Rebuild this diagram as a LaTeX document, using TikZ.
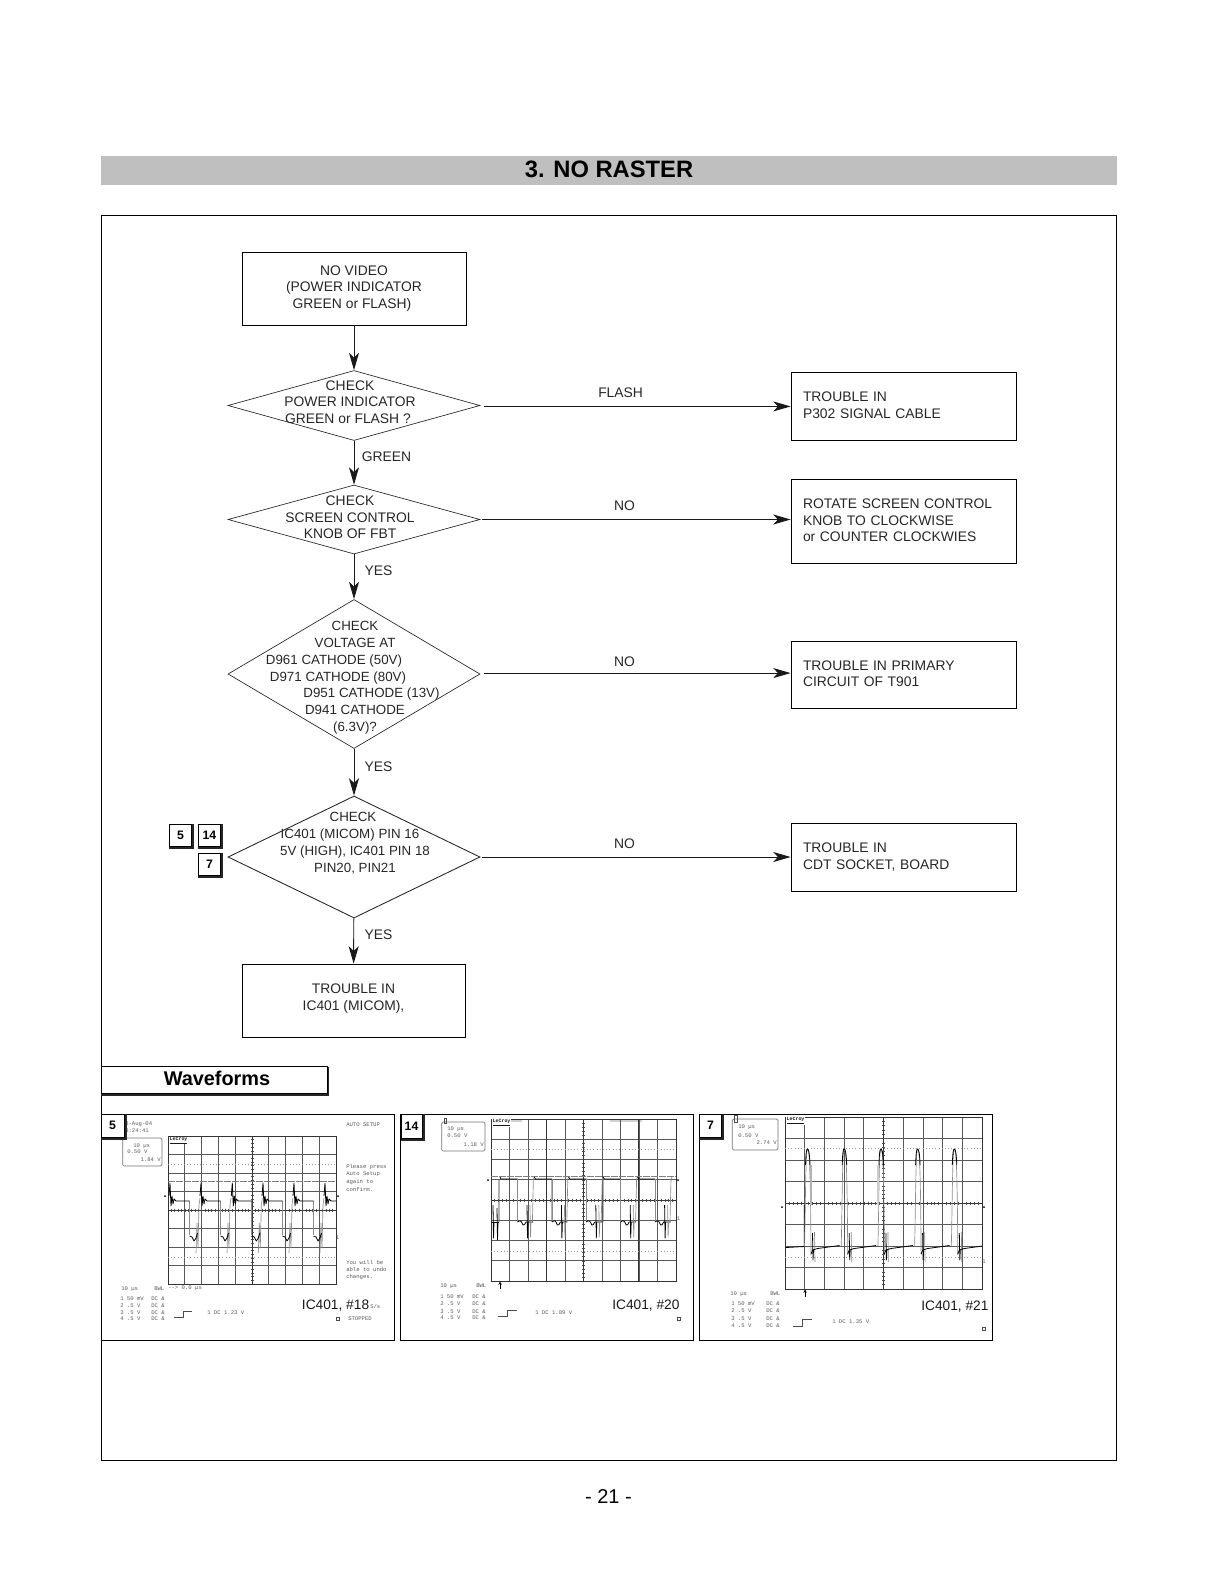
\documentclass[tikz,border=0pt]{standalone}
\usepackage{fontspec}
\setmainfont{Liberation Sans}
\setmonofont{Liberation Mono}
\usetikzlibrary{arrows.meta,shapes.geometric}
\def\pxu{0.75pt}
\newcounter{tinyc}
\tikzset{
  flowtext/.style={font=\fontsize{10.4}{12.5}\selectfont, text=black!85, align=center, inner sep=0pt},
  smalltext/.style={flowtext, font=\fontsize{10}{12.6}\selectfont},
  flowbox/.style={draw=black, line width=0.6pt, flowtext, minimum width=224*\pxu},
  resultbox/.style={draw=black, line width=0.6pt, flowtext, align=left, inner xsep=9pt, inner ysep=0pt, text width=150.75pt, minimum width=168.75pt},
  decision/.style={diamond, draw=black!85, line width=#1, inner sep=0pt, minimum width=252*\pxu},
  decision/.default=0.5pt,
  flowlabel/.style={font=\fontsize{10.4}{12.5}\selectfont, text=black!85, inner sep=0pt},
  flowarrow/.style={draw=black!90, line width=0.7pt, -{Stealth[length=13pt,width=7.5pt,inset=3.5pt]}},
  badgebox/.style={draw=black, fill=white, line width=0.7pt, inner sep=0pt, font=\bfseries\fontsize{9.2}{11}\selectfont},
  framebox/.style={draw=black, line width=0.6pt},
  panelbox/.style={draw=black, line width=0.7pt},
  gridl/.style={draw=black!65, line width=0.5pt},
  gridd/.style={draw=black!80, line width=0.6pt},
  tickl/.style={draw=black!70, line width=0.35pt},
  dotrow/.style={draw=black!40, line width=0.4pt, dash pattern=on 0.8pt off 1.6pt},
  dashrow/.style={draw=black!50, line width=0.5pt, dash pattern=on 5pt off 1pt},
  wavek/.style={draw=black, line width=0.6pt, line join=round},
  waveg/.style={draw=black!45, line width=0.5pt, line join=round},
  wavebar/.style={draw=black!30, line width=1.8pt},
  readout/.style={draw=black!55, line width=0.5pt, rounded corners=1pt},
  tiny/.style={font=\ttfamily\fontsize{4.2}{5}\selectfont, text=black!65, anchor=west, inner sep=0pt},
  tinyr/.style={tiny, anchor=east},
  lecroy/.style={font=\ttfamily\bfseries\fontsize{3.7}{4.5}\selectfont, text=black!90, fill=white, anchor=west, inner sep=0.3pt},
  probe/.style={font=\fontsize{10.3}{12}\selectfont, text=black!90, anchor=west, inner sep=0pt},
  trig/.style={draw=black!70, line width=0.5pt},
}
\newcommand\shr[2]{\hbox{\kern#1pt\kern0.5\dimexpr#1pt\relax #2}}
\newcommand\shl[2]{\hbox{#2\kern#1pt\kern0.5\dimexpr#1pt\relax}}
\newcommand\tnote[3]{\stepcounter{tinyc}\node[tiny] (tiny\arabic{tinyc}) at (#1,#2) {#3};}
\newcommand\tnoter[3]{\stepcounter{tinyc}\node[tinyr] (tiny\arabic{tinyc}) at (#1,#2) {#3};}
% name, centre x, centre y, w, h, text
\newcommand\badge[6]{%
  \node[badgebox, minimum width=#4*\pxu, minimum height=#5*\pxu] (#1) at (#2,#3) {#6};
  \draw[draw=black!85, line width=1.5pt] ([xshift=1pt]#1.north east) -- ([xshift=1pt,yshift=-1pt]#1.south east) -- ([yshift=-1pt]#1.south west);
}
\newcommand\oscgrid[4]{%
  \foreach \i in {1,...,9} \draw[gridl] ({#1+(#3-#1)*\i/10},#2) -- ({#1+(#3-#1)*\i/10},#4);
  \foreach \i in {1,...,7} \draw[gridl] (#1,{#2+(#4-#2)*\i/8}) -- (#3,{#2+(#4-#2)*\i/8});
  \draw[gridd] (#1,#2) rectangle (#3,#4);
  \draw[gridd] ({(#1+#3)/2},#2) -- ({(#1+#3)/2},#4);
  \draw[gridd] (#1,{(#2+#4)/2}) -- (#3,{(#2+#4)/2});
  \foreach \i in {1,...,39} \draw[tickl] ({(#1+#3)/2-1.5},{#2+(#4-#2)*\i/40}) -- ({(#1+#3)/2+1.5},{#2+(#4-#2)*\i/40});
  \foreach \i in {1,...,49} \draw[tickl] ({#1+(#3-#1)*\i/50},{(#2+#4)/2-1.5}) -- ({#1+(#3-#1)*\i/50},{(#2+#4)/2+1.5});
}
\begin{document}
\begin{tikzpicture}[x=0.75pt,y=-0.75pt]
\useasboundingbox (0,0) rectangle (1219,1582);
% title and frame
\node[fill=black!25, minimum width=1016*\pxu, minimum height=29*\pxu, inner sep=0pt, text depth=2.2pt, font=\bfseries\fontsize{17.8}{20}\selectfont] (title) at (609,170.5) {3. NO RASTER};
\draw[framebox] (101,215) rectangle (1116.5,1460.5);
\node[inner sep=0pt, font=\fontsize{15}{18}\selectfont] (page) at (608.5,1496.5) {- 21 -};
% flow boxes
\node[flowbox, minimum height=73*\pxu] (start) at (354,288.5) {NO VIDEO\\(POWER INDICATOR\\\shl{2}{GREEN or FLASH)}};
\node[decision] (d1) at (354,405.5) [minimum height=70*\pxu] {};
\node[decision] (d2) at (354,519.5) [minimum height=69*\pxu] {};
\node[decision] (d3) at (354,674) [minimum height=149*\pxu] {};
\node[decision=0.65pt] (d4) at (354,857) [minimum height=122*\pxu] {};
\node[flowbox, minimum width=223*\pxu, minimum height=73*\pxu, text depth=4.6pt] (micom) at (353.5,1000.5) {TROUBLE IN\\IC401 (MICOM),};
% text of the decisions
\node[flowtext] (d1t) at (350,402) {CHECK\\POWER INDICATOR\\\shl{2}{GREEN or FLASH ?}};
\node[flowtext] (d2t) at (350,517.5) {CHECK\\SCREEN CONTROL\\KNOB OF FBT};
\node[smalltext] (d3t) at (355,677.8) {CHECK\\VOLTAGE AT\\\shl{21}{D961 CATHODE (50V)}\\\shl{17}{D971 CATHODE (80V)}\\\shr{16.5}{D951 CATHODE (13V)}\\D941 CATHODE\\(6.3V)?};
\node[smalltext] (d4t) at (353,843) {CHECK\\\shl{3}{IC401 (MICOM) PIN 16}\\\shr{2}{5V (HIGH), IC401 PIN 18}\\\shr{2}{PIN20, PIN21}};
% result boxes
\node[resultbox, minimum height=51pt, text depth=14pt] (ra) at (903.5,406) {TROUBLE IN\\P302 SIGNAL CABLE};
\node[resultbox, minimum height=63pt, text depth=25.8pt] (rb) at (903.5,521) {ROTATE SCREEN CONTROL\\KNOB TO CLOCKWISE\\or COUNTER CLOCKWIES};
\node[resultbox, minimum height=50.25pt, text depth=14pt] (rc) at (903.5,674.5) {TROUBLE IN PRIMARY\\CIRCUIT OF T901};
\node[resultbox, minimum height=51pt] (rd) at (903.5,857) {TROUBLE IN\\CDT SOCKET, BOARD};
% connectors
\draw[flowarrow] (start) -- (d1);
\draw[flowarrow] (d1) -- (d2);
\draw[flowarrow] (d2) -- (d3);
\draw[flowarrow] (d3) -- (d4);
\draw[flowarrow] (d4) -- (micom);
\coordinate (d1o) at ([yshift=-0.7pt]d1.east);
\coordinate (d3o) at ([yshift=0.7pt]d3.east);
\draw[flowarrow, shorten <=2.5pt] (d1o) -- (d1o -| ra.west);
\draw[flowarrow, shorten <=1.5pt] (d2.east) -- (d2.east -| rb.west);
\draw[flowarrow, shorten <=2.5pt] (d3o) -- (d3o -| rc.west);
\draw[flowarrow, shorten <=1.5pt] (d4.east) -- (d4.east -| rd.west);
% connector labels
\node[flowlabel] (lflash) at (620.6,392.5) {FLASH};
\node[flowlabel] (lgreen) at (386.5,457) {GREEN};
\node[flowlabel] (lno1) at (624.6,505.5) {NO};
\node[flowlabel] (lyes1) at (378.4,571) {YES};
\node[flowlabel] (lno2) at (624.6,661.5) {NO};
\node[flowlabel] (lyes2) at (378.4,766.4) {YES};
\node[flowlabel] (lno3) at (624.6,843.6) {NO};
\node[flowlabel] (lyes3) at (378.4,934.4) {YES};
% reference badges
\badge{k5}{180.5}{835}{22}{22}{5}
\badge{k14}{209.5}{835}{22}{22}{14}
\badge{k7}{209.5}{864}{22}{22}{7}
% waveforms heading
\draw[draw=black!85, line width=1.8pt] (327.5,1067) -- (327.5,1094.5) -- (101,1094.5);
\node[draw=black, fill=white, line width=0.6pt, minimum width=226*\pxu, minimum height=27*\pxu, inner sep=0pt, text depth=1.5pt, font=\bfseries\fontsize{14.9}{17}\selectfont] (wave) at (214,1079.5) {\shr{3}{Waveforms}};
% panels
\draw[panelbox] (101,1114) rectangle (394.5,1340);
\draw[panelbox] (400.5,1114) rectangle (693,1340);
\draw[panelbox] (699.5,1114) rectangle (992,1340);
% ---------- panel 1
\oscgrid{168}{1136}{336}{1284}
\draw[dotrow] (168,1164) -- (336,1164);
\draw[dashrow] (168,1181) -- (336,1181);
\draw[dotrow] (168,1257) -- (336,1257);
\begin{scope}
\clip (168,1136) rectangle (336,1284);
\foreach \s in {170,201,232.3,263,294,325}{
  \draw[waveg] ({\s+19.5},1201) -- ({\s+19.5},1235);
  \draw[waveg] ({\s+26},1253) -- ({\s+27},1223) -- ({\s+28},1248) -- ({\s+29},1205) -- ({\s+30},1198);
  \draw[wavek] ({\s-1},1196) -- (\s,1183) -- ({\s+1},1206) -- ({\s+2},1196) -- ({\s+3},1204) -- ({\s+4},1199) -- ({\s+6},1201) -- ({\s+19.5},1201);
  \draw[wavek] ({\s+19.5},1236) -- ({\s+22},1237) -- ({\s+24},1241) -- ({\s+26},1238) -- ({\s+27.5},1233);
}
\end{scope}
\tnote{125}{1124}{8-Aug-04}
\tnote{125}{1130.5}{8:24:41}
\tnote{346}{1124.7}{AUTO SETUP}
\tnote{346}{1167}{Please press}
\tnote{346}{1174.6}{Auto Setup}
\tnote{346}{1181.6}{again to}
\tnote{346}{1189}{confirm.}
\tnote{346}{1262}{You will be}
\tnote{346}{1269.7}{able to undo}
\tnote{346}{1277}{changes.}
\draw[readout] (122.7,1138) rectangle (162,1166);
\draw[draw=black!70, line width=0.5pt] (124.5,1134.5) rectangle (126.5,1139);
\tnote{133}{1146}{10 µs}
\tnote{127}{1152}{0.50 V}
\tnoter{161}{1160}{1.84 V}
\node[lecroy] (lc1) at (169,1140.5) {\underline{LeCroy}};
\tnote{121}{1289}{10 µs}
\tnote{154}{1289}{BWL}
\tnote{168}{1288}{--> 0.0 µs}
\tnote{120}{1299}{1 50 mV}
\tnote{120}{1306}{2 .5  V}
\tnote{120}{1312.5}{3 .5  V}
\tnote{120}{1319}{4 .5  V}
\tnote{151}{1299}{DC \&}
\tnote{151}{1306}{DC \&}
\tnote{151}{1312.5}{DC \&}
\tnote{151}{1319}{DC \&}
\draw[trig] (174,1317) -- (183,1317) -- (183,1311) -- (192,1311);
\tnote{207}{1313}{1 DC 1.23 V}
\node[probe] (w1) at (301.7,1306) {IC401, \#18};
\tnote{370}{1306}{S/s}
\draw[trig] (336,1317.5) rectangle (339,1320.5);
\tnote{348}{1319}{STOPPED}
\tnote{335.5}{1238}{1}
\fill[black] (165,1196) circle (1); \fill[black] (338,1196) circle (1);
\badge{p5}{112.5}{1125.5}{23}{23}{5}
% ---------- panel 2
\fill[black!18] (500,1119) rectangle (522,1122);
\fill[black!18] (610,1119) rectangle (642,1122);
\draw[wavebar] (603,1176) -- (603,1222);
\draw[wavebar] (499,1180) -- (499,1222);
\draw[wavebar] (552,1180) -- (552,1222);
\oscgrid{491}{1119}{676}{1281}
\draw[gridd] (638,1119) -- (638,1281);
\draw[gridd] (546.5,1119) -- (546.5,1281);
\draw[dotrow] (491,1149) -- (676,1149);
\draw[dashrow] (491,1176) -- (676,1176);
\draw[dotrow] (491,1251) -- (676,1251);
\begin{scope}
\clip (491,1119) rectangle (676,1281);
\foreach \i in {0,...,4}{
  \pgfmathsetmacro\s{500+34.4*\i}
  \draw[wavek] (\s,1177) -- ({\s+1},1179) -- ({\s+17.5},1179);
  \draw[waveg] ({\s+17.5},1179) -- ({\s+17.5},1222);
  \draw[waveg] ({\s+32.4},1222) -- ({\s+33.4},1179) -- ({\s+34.4},1177);
  \draw[wavek] ({\s+17.5},1222) .. controls ({\s+20},1220) and ({\s+21},1220) .. ({\s+23},1225) .. controls ({\s+24},1226) and ({\s+25},1224) .. ({\s+26},1222) -- ({\s+33},1222);
  \draw[wavek] ({\s+27},1205) -- ({\s+27.5},1238) -- ({\s+28},1222);
  \draw[waveg] ({\s+30},1205) -- ({\s+30.5},1237) -- ({\s+31},1222);
}
\draw[wavek] (492,1222) -- (499,1222);
\draw[wavek] (493,1205) -- (493.5,1238) -- (494,1222);
\draw[wavek] (497,1208) -- (497.5,1240) -- (498,1222);
\end{scope}
\draw[readout] (441.7,1122) rectangle (485,1151);
\draw[draw=black!70, line width=0.5pt] (444,1118.5) rectangle (446,1123.5);
\tnote{447}{1129}{10 µs}
\tnote{447}{1136}{0.50 V}
\tnoter{484}{1145}{1.18 V}
\node[lecroy] (lc2) at (492,1123) {\underline{LeCroy}};
\tnote{440}{1286}{10 µs}
\tnote{476}{1286}{BWL}
\tnote{440}{1297}{1 50 mV}
\tnote{440}{1304}{2 .5  V}
\tnote{440}{1311.5}{3 .5  V}
\tnote{440}{1318}{4 .5  V}
\tnote{472}{1297}{DC \&}
\tnote{472}{1304}{DC \&}
\tnote{472}{1311.5}{DC \&}
\tnote{472}{1318}{DC \&}
\draw[draw=black, line width=0.7pt, -{Stealth[length=2.5pt,width=2.5pt]}] (500,1288.5) -- (500,1281.5);
\draw[trig] (498,1316.7) -- (507.7,1316.7) -- (507.7,1310) -- (517,1310);
\tnote{535}{1313}{1 DC 1.89 V}
\node[probe] (w2) at (612,1306) {IC401, \#20};
\draw[trig] (677,1317.5) rectangle (680,1320.5);
\tnote{676.5}{1219}{1}
\fill[black] (488,1180) circle (1); \fill[black] (678,1180) circle (1);
\badge{p14}{411.5}{1126}{21}{24}{14}
% ---------- panel 3
\oscgrid{785}{1117}{982}{1289}
\draw[dotrow] (785,1148) -- (982,1148);
\draw[dotrow] (785,1257) -- (982,1257);
\begin{scope}
\clip (785,1117) rectangle (982,1289);
\draw[wavek] (786,1247.5) -- (804.3,1246.5) -- (804.3,1205);
\foreach \i in {0,...,4}{
  \pgfmathsetmacro\s{807.5+36.7*\i}
  \draw[waveg] ({\s-3},1246) .. controls ({\s-2},1210) and ({\s-2},1150) .. (\s,1149) .. controls ({\s+2},1150) and ({\s+3},1170) .. ({\s+3.5},1255);
  \draw[wavek] ({\s-2},1165) .. controls ({\s-1.5},1152) and ({\s-1},1149) .. (\s,1149) .. controls ({\s+1},1149) and ({\s+2},1152) .. ({\s+2.5},1165);
  \draw[waveg] ({\s+7},1232) -- ({\s+7.5},1262);
  \draw[wavek] ({\s+3.5},1254) -- ({\s+5},1250) -- ({\s+10},1248.5) -- ({\s+32},1245.5);
  \draw[wavek] ({\s+5},1233) -- ({\s+5.5},1260) -- ({\s+6},1250);
}
\draw[wavebar] (811,1165) -- (811,1205);
\draw[wavebar, draw=black!20] (878,1165) -- (878,1205);
\end{scope}
\draw[readout] (732.3,1119) rectangle (778,1150);
\draw[draw=black!70, line width=0.5pt] (734.5,1115) rectangle (737,1122);
\tnote{738}{1127}{10 µs}
\tnote{738}{1136}{0.50 V}
\tnoter{777}{1143}{2.74 V}
\node[lecroy] (lc3) at (786,1121) {\underline{LeCroy}};
\tnote{730}{1294}{10 µs}
\tnote{770}{1294}{BWL}
\tnote{731}{1304}{1 50 mV}
\tnote{731}{1311}{2 .5  V}
\tnote{731}{1319}{3 .5  V}
\tnote{731}{1326}{4 .5  V}
\tnote{766}{1304}{DC \&}
\tnote{766}{1311}{DC \&}
\tnote{766}{1319}{DC \&}
\tnote{766}{1326}{DC \&}
\draw[draw=black, line width=0.7pt, -{Stealth[length=2.5pt,width=2.5pt]}] (805,1297) -- (805,1289.5);
\draw[trig] (793,1326.7) -- (802,1326.7) -- (802,1319) -- (812,1319);
\tnote{832}{1322}{1 DC 1.35 V}
\node[probe] (w3) at (921,1306.7) {IC401, \#21};
\draw[trig] (982,1327.5) rectangle (985,1330.5);
\tnote{982}{1262}{1}
\fill[black] (782,1207) circle (1); \fill[black] (984,1207) circle (1);
\badge{p7}{710.5}{1125.5}{22}{23}{7}
\end{tikzpicture}
\end{document}
